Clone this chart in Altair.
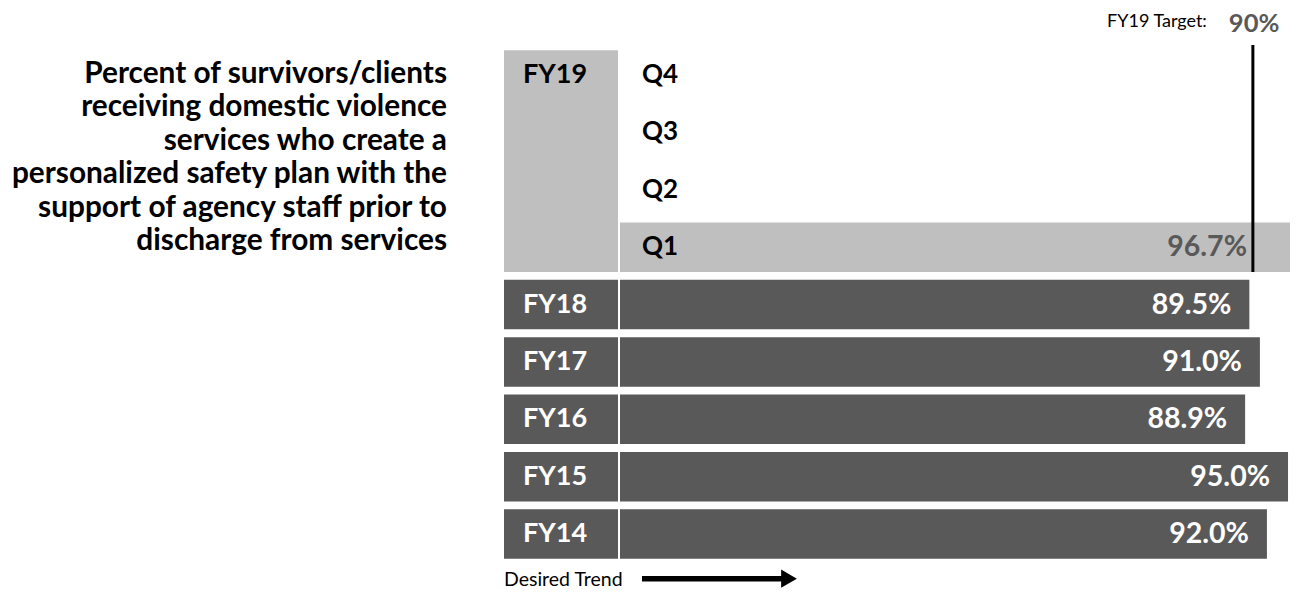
import altair as alt
import pandas as pd

# ---------------- data ----------------
title_lines = [
    "Percent of survivors/clients",
    "receiving domestic violence",
    "services who create a",
    "personalized safety plan with the",
    "support of agency staff prior to",
    "discharge from services",
]
current_year = "FY19"
quarters = ["Q4", "Q3", "Q2", "Q1"]
quarter_values = [None, None, None, 96.7]
years = ["FY18", "FY17", "FY16", "FY15", "FY14"]
year_values = [89.5, 91.0, 88.9, 95.0, 92.0]
target_value = 90
target_caption = "FY19 Target:"
target_text = "90%"
trend_label = "Desired Trend"

row_order = quarters + years

# ---------------- layout ----------------
H = 577
W_A, W_B, W_C = 494, 114, 670
XMAX = 95.28
FONT = "Lato"
DARK = "#595959"
LIGHT = "#bfbfbf"

yscale = alt.Scale(domain=row_order, paddingInner=0.137, paddingOuter=0.597, align=0.6175)
xbox = alt.Scale(domain=[0, 1])
xval = alt.Scale(domain=[0, XMAX])

q_df = pd.DataFrame({"row": quarters, "value": quarter_values})
q_df["label"] = q_df["value"].map(lambda v: "" if pd.isna(v) else f"{v:.1f}%")
q_vals = q_df.dropna(subset=["value"])
y_df = pd.DataFrame({"row": years, "value": year_values})
y_df["label"] = y_df["value"].map(lambda v: f"{v:.1f}%")
cur_df = pd.DataFrame({"label": [current_year], "start": [quarters[0]], "end": [quarters[-1]]})
title_df = pd.DataFrame({"text": ["\n".join(title_lines)]})
tgt_df = pd.DataFrame({"value": [target_value], "caption": [target_caption], "text": [target_text]})
trend_df = pd.DataFrame({"label": [trend_label]})

# ---------------- panel A: title ----------------
panel_a = alt.Chart(title_df).mark_text(
    align="right", baseline="alphabetic", font=FONT, fontWeight="bold",
    fontSize=29.8, lineHeight=33.5, lineBreak="\n", color="#000000",
).encode(
    x=alt.value(439), y=alt.value(74.7), text="text:N"
).properties(width=W_A, height=H)

# ---------------- panel B: row labels ----------------
year_boxes = alt.Chart(y_df).mark_bar(color=DARK).encode(
    y=alt.Y("row:N", scale=yscale, axis=None, sort=row_order),
    x=alt.X(datum=0, type="quantitative", scale=xbox, axis=None),
    x2=alt.X2(datum=1),
)
cur_box = alt.Chart(cur_df).mark_bar(color=LIGHT).encode(
    y=alt.Y("start:N", scale=yscale, axis=None, bandPosition=0),
    y2=alt.Y2("end:N", bandPosition=1),
    x=alt.X(datum=0, type="quantitative", scale=xbox, axis=None),
    x2=alt.X2(datum=1),
)
year_text = alt.Chart(y_df).mark_text(
    align="left", baseline="middle", dx=19, font=FONT, fontWeight="bold",
    fontSize=27, color="#ffffff",
).encode(
    y=alt.Y("row:N", scale=yscale, axis=None),
    x=alt.X(datum=0, type="quantitative", scale=xbox, axis=None),
    text="row:N",
)
cur_text = alt.Chart(cur_df).mark_text(
    align="left", baseline="middle", dx=19, font=FONT, fontWeight="bold",
    fontSize=27, color="#000000",
).encode(
    y=alt.Y("start:N", scale=yscale, axis=None),
    x=alt.X(datum=0, type="quantitative", scale=xbox, axis=None),
    text="label:N",
)
trend_text = alt.Chart(trend_df).mark_text(
    align="left", baseline="alphabetic", font=FONT, fontSize=19.5, color="#000000",
).encode(
    x=alt.X(datum=0, type="quantitative", scale=xbox, axis=None),
    y=alt.value(577.5),
    text="label:N",
)
panel_b = alt.layer(year_boxes, cur_box, year_text, cur_text, trend_text).properties(
    width=W_B, height=H
)

# ---------------- panel C: bars ----------------
q_bar = alt.Chart(q_vals).mark_bar(color=LIGHT, clip=True).encode(
    y=alt.Y("row:N", scale=yscale, axis=None),
    x=alt.X("value:Q", scale=xval, axis=None),
)
y_bar = alt.Chart(y_df).mark_bar(color=DARK, clip=True).encode(
    y=alt.Y("row:N", scale=yscale, axis=None),
    x=alt.X("value:Q", scale=xval, axis=None),
)
q_names = alt.Chart(q_df).mark_text(
    align="left", baseline="middle", dx=22, font=FONT, fontWeight="bold",
    fontSize=26, color="#000000",
).encode(
    y=alt.Y("row:N", scale=yscale, axis=None),
    x=alt.X(datum=0, type="quantitative", scale=xval, axis=None),
    text="row:N",
)
q_labels = alt.Chart(q_vals).mark_text(
    align="right", baseline="middle", dx=-53, font=FONT, fontWeight="bold",
    fontSize=28.5, color=DARK,
).encode(
    y=alt.Y("row:N", scale=yscale, axis=None),
    x=alt.X("value:Q", scale=xval, axis=None),
    text="label:N",
)
y_labels = alt.Chart(y_df).mark_text(
    align="right", baseline="middle", dx=-18, font=FONT, fontWeight="bold",
    fontSize=28.5, color="#ffffff",
).encode(
    y=alt.Y("row:N", scale=yscale, axis=None),
    x=alt.X("value:Q", scale=xval, axis=None),
    text="label:N",
)
tgt_rule = alt.Chart(tgt_df).mark_rule(color="#000000", strokeWidth=3).encode(
    x=alt.X("value:Q", scale=xval, axis=None),
    y=alt.value(37),
    y2=alt.value(264),
)
tgt_caption = alt.Chart(tgt_df).mark_text(
    align="right", baseline="alphabetic", dx=-46, font=FONT, fontSize=18, color="#000000",
).encode(
    x=alt.X("value:Q", scale=xval, axis=None),
    y=alt.value(19),
    text="caption:N",
)
tgt_text = alt.Chart(tgt_df).mark_text(
    align="left", baseline="alphabetic", dx=-24, font=FONT, fontWeight="bold",
    fontSize=25.5, color=DARK,
).encode(
    x=alt.X("value:Q", scale=xval, axis=None),
    y=alt.value(24),
    text="text:N",
)
arrow_line = alt.Chart(trend_df).mark_rule(color="#000000", strokeWidth=5.5).encode(
    x=alt.value(22), x2=alt.value(166), y=alt.value(570.7),
)
arrow_head = alt.Chart(trend_df).mark_point(
    shape="triangle-right", filled=True, color="#000000", size=330, opacity=1,
).encode(
    x=alt.value(169), y=alt.value(570.7),
)
panel_c = alt.layer(
    q_bar, y_bar, q_names, q_labels, y_labels, tgt_rule, tgt_caption, tgt_text,
    arrow_line, arrow_head,
).properties(width=W_C, height=H)

chart = alt.hconcat(panel_a, panel_b, panel_c, spacing=2, bounds="flush").properties(
    padding=0
).configure_view(stroke=None)

chart.save("out.html", embed_options={"renderer": "svg", "actions": False})
